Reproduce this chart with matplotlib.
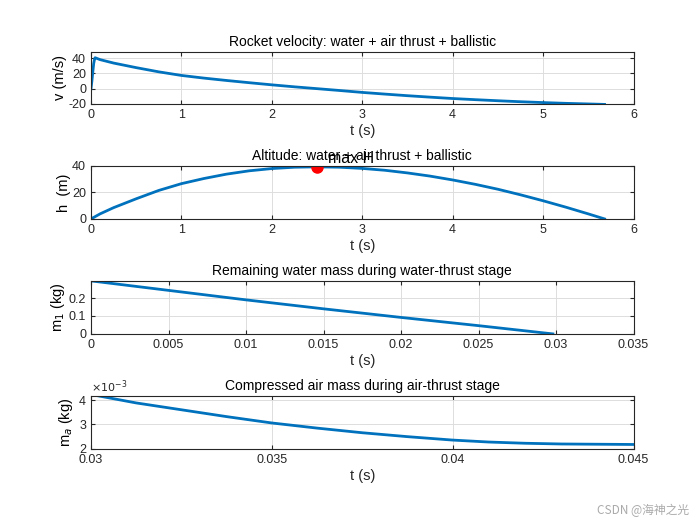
"""Water rocket flight: velocity, altitude and propellant masses (MATLAB-style subplots)."""

import numpy as np
import matplotlib.pyplot as plt
from matplotlib.ticker import FuncFormatter

plt.rcParams['font.family'] = ['Liberation Sans', 'DejaVu Sans']
plt.rcParams['axes.unicode_minus'] = False

# velocity over the whole flight
t_v = [0, 0.01, 0.02, 0.03, 0.04, 0.045, 0.1, 0.25, 0.5, 0.75, 1.0, 1.25, 1.5,
       1.75, 2.0, 2.25, 2.5, 2.75, 3.0, 3.25, 3.5, 3.75, 4.0, 4.25, 4.5, 4.75,
       5.0, 5.25, 5.5, 5.68]
v = [0, 10, 22, 33, 39, 40.5, 38, 33.5, 27.5, 22, 17.3, 13.8, 10.7,
     7.8, 5.0, 2.4, 0.0, -2.4, -4.9, -7.1, -9.2, -11.1, -12.9, -14.4, -15.8, -17.1,
     -18.2, -19.2, -20.0, -20.6]

# altitude over the whole flight
t_h = [0, 0.1, 0.25, 0.5, 0.75, 1.0, 1.25, 1.5, 1.75, 2.0, 2.25, 2.5, 2.75,
       3.0, 3.25, 3.5, 3.75, 4.0, 4.25, 4.5, 4.75, 5.0, 5.25, 5.5, 5.68]
h = [0, 3.8, 8.5, 15.2, 21.5, 26.6, 30.5, 33.8, 36.3, 38.0, 39.0, 39.3, 39.0,
     38.1, 36.7, 34.7, 32.3, 29.4, 26.1, 22.4, 18.2, 13.7, 8.9, 3.8, 0.0]
t_max, h_max = 2.5, 39.3

# remaining water mass, water-thrust stage
t_w = [0, 0.005, 0.01, 0.015, 0.02, 0.025, 0.0298]
m_w = [0.296, 0.243, 0.19, 0.14, 0.092, 0.046, 0.0]

# compressed air mass, air-thrust stage
t_a = [0.0302, 0.03125, 0.0325, 0.03375, 0.035, 0.03625, 0.0375, 0.03875, 0.04,
       0.041, 0.042, 0.043, 0.044, 0.045]
m_a = [4.17e-3, 3.88e-3, 3.6e-3, 3.32e-3, 3.06e-3, 2.85e-3, 2.66e-3, 2.5e-3,
       2.36e-3, 2.28e-3, 2.23e-3, 2.2e-3, 2.19e-3, 2.18e-3]

blue = '#0072BD'
fs_tick = 9
fs_lab = 10.5
fs_title = 10


def style(ax):
    ax.grid(True, color='#dddddd', linewidth=0.7)
    ax.set_axisbelow(True)
    ax.tick_params(direction='in', top=True, right=True, labelsize=fs_tick,
                   colors='#262626', length=3)
    for s in ax.spines.values():
        s.set_color('#262626')
        s.set_linewidth(0.8)
    ax.set_xlabel('t (s)', fontsize=fs_lab, color='#262626', labelpad=2)


fig = plt.figure(figsize=(7, 5.25), dpi=100)
w = 0.775
ax1 = fig.add_axes([0.13, 0.802, w, 0.099])
ax2 = fig.add_axes([0.13, 0.583, w, 0.101])
ax3 = fig.add_axes([0.13, 0.364, w, 0.101])
ax4 = fig.add_axes([0.13, 0.145, w, 0.101])

ax1.plot(t_v, v, color=blue, linewidth=2)
ax1.set_xlim(0, 6)
ax1.set_ylim(-20, 48)
ax1.set_yticks([-20, 0, 20, 40])
ax1.set_ylabel('v (m/s)', fontsize=fs_lab, labelpad=1)
ax1.set_title('Rocket velocity: water + air thrust + ballistic', fontsize=fs_title, pad=4)
style(ax1)

ax2.plot(t_h, h, color=blue, linewidth=2)
ax2.plot([t_max], [h_max], 'o', color='red', markersize=8)
ax2.text(t_max + 0.12, h_max + 6, 'max H', fontsize=11.5, va='center')
ax2.set_xlim(0, 6)
ax2.set_ylim(0, 40)
ax2.set_yticks([0, 20, 40])
ax2.set_ylabel('h  (m)', fontsize=fs_lab, labelpad=1)
ax2.set_title('Altitude: water + air thrust + ballistic', fontsize=fs_title, pad=4)
style(ax2)

ax3.plot(t_w, m_w, color=blue, linewidth=2)
ax3.set_xlim(0, 0.035)
ax3.set_ylim(0, 0.296)
ax3.set_xticks([0, 0.005, 0.01, 0.015, 0.02, 0.025, 0.03, 0.035])
ax3.set_yticks([0, 0.1, 0.2])
ax3.xaxis.set_major_formatter(FuncFormatter(lambda x, p: f'{x:g}'))
ax3.yaxis.set_major_formatter(FuncFormatter(lambda x, p: f'{x:g}'))
ax3.set_ylabel('m$_1$ (kg)', fontsize=fs_lab, labelpad=1)
ax3.set_title('Remaining water mass during water-thrust stage', fontsize=fs_title, pad=4)
style(ax3)

ax4.plot(t_a, m_a, color=blue, linewidth=2)
ax4.set_xlim(0.03, 0.045)
ax4.set_ylim(2e-3, 4.17e-3)
ax4.set_xticks([0.03, 0.035, 0.04, 0.045])
ax4.set_yticks([2e-3, 3e-3, 4e-3])
ax4.xaxis.set_major_formatter(FuncFormatter(lambda x, p: f'{x:g}'))
ax4.yaxis.set_major_formatter(FuncFormatter(lambda x, p: f'{x * 1e3:g}'))
ax4.text(0.0, 1.02, r'$\times10^{-3}$', transform=ax4.transAxes, fontsize=8,
         color='#262626', va='bottom')
ax4.set_ylabel('m$_a$ (kg)', fontsize=fs_lab, labelpad=3)
ax4.set_title('Compressed air mass during air-thrust stage', fontsize=fs_title, pad=4)
style(ax4)

fig.text(0.985, 0.015, 'CSDN @海神之光', fontsize=8.5, color='#aaaaaa', ha='right',
         va='bottom', family=['Noto Sans CJK SC', 'DejaVu Sans'])

fig.savefig('out.png', dpi=100, facecolor='white')
